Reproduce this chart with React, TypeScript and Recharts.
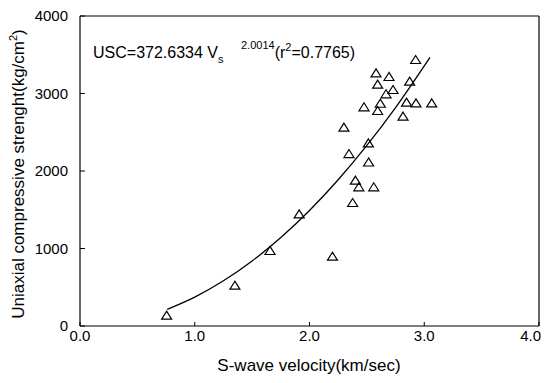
import React from "react";
import { ComposedChart, XAxis, YAxis, Scatter, Line, ReferenceLine } from "recharts";

const velocity = [0.755, 1.35, 1.656, 1.91, 2.2, 2.376, 2.4, 2.43, 2.56, 2.515, 2.513, 2.344, 2.3, 2.475, 2.594, 2.617, 2.667, 2.728, 2.594, 2.58, 2.693, 2.873, 2.925, 2.815, 2.846, 2.928, 3.065];
const strength = [133, 520, 968, 1441, 894, 1587, 1875, 1790, 1790, 2110, 2357, 2219, 2559, 2822, 2774, 2868, 2990, 3045, 3114, 3260, 3213, 3153, 3432, 2701, 2882, 2873, 2873];

const fitVelocity = [0.76, 1.0, 1.25, 1.5, 1.75, 2.0, 2.25, 2.5, 2.75, 3.05];
const fitStrength = [215, 373, 583, 839, 1142, 1491, 1887, 2330, 2819, 3467];

const xTicks = [0, 1, 2, 3, 4];
const yTicks = [0, 1000, 2000, 3000, 4000];

const points = velocity.map((v, i) => ({ x: v, y: strength[i] }));
const fit = fitVelocity.map((v, i) => ({ x: v, y: fitStrength[i] }));

const FONT = "'Liberation Sans', Arial, sans-serif";

const Triangle = (props: any) => {
  const { cx, cy } = props;
  if (cx == null || cy == null) return null;
  const pts = `${cx},${cy - 4.5} ${cx - 5},${cy + 3.5} ${cx + 5},${cy + 3.5}`;
  return <polygon points={pts} fill="none" stroke="#000" strokeWidth={1.2} />;
};

const XTick = (props: any) => {
  const { x, y, payload } = props;
  const isLast = payload.value === xTicks[xTicks.length - 1];
  return (
    <g>
      <line x1={x} x2={x} y1={y} y2={y - 4} stroke="#000" strokeWidth={1} />
      <text
        x={isLast ? x + 2 : x}
        y={y + 4}
        dy="0.71em"
        textAnchor={isLast ? "end" : "middle"}
        fontFamily={FONT}
        fontSize={15}
        fill="#000"
      >
        {Number(payload.value).toFixed(1)}
      </text>
    </g>
  );
};

const YTick = (props: any) => {
  const { x, y, payload } = props;
  return (
    <g>
      <line x1={x} x2={x + 5} y1={y} y2={y} stroke="#000" strokeWidth={1} />
      <text x={x - 12} y={y} dy="0.35em" textAnchor="end" fontFamily={FONT} fontSize={15} fill="#000">
        {payload.value}
      </text>
    </g>
  );
};

export default function App() {
  return (
    <div style={{ width: 541, height: 367 }}>
      <style>{`.recharts-surface { overflow: visible !important; } body { overflow: hidden; }`}</style>
      <ComposedChart
        width={541}
        height={367}
        margin={{ top: 8, right: 10, left: 0, bottom: 0 }}
      >
        <XAxis
          type="number"
          dataKey="x"
          domain={[0, 4]}
          ticks={xTicks}
          allowDataOverflow
          tickSize={0}
          tickMargin={0}
          tick={<XTick />}
          axisLine={{ stroke: "#000", strokeWidth: 1.2 }}
          height={49}
          interval={0}
        />
        <YAxis
          type="number"
          dataKey="y"
          domain={[0, 4000]}
          ticks={yTicks}
          allowDataOverflow
          tickSize={0}
          tickMargin={0}
          tick={<YTick />}
          axisLine={{ stroke: "#000", strokeWidth: 1.2 }}
          width={72}
          interval={0}
        />
        <ReferenceLine y={4000} stroke="#000" strokeWidth={1.2} />
        <ReferenceLine x={4} stroke="#000" strokeWidth={1.2} />
        <Line
          data={fit}
          dataKey="y"
          type="monotone"
          stroke="#000"
          strokeWidth={1.3}
          dot={false}
          activeDot={false}
          isAnimationActive={false}
        />
        <Scatter data={points} dataKey="y" shape={<Triangle />} isAnimationActive={false} />
        <text x={301} y={363} textAnchor="middle" fontFamily={FONT} fontSize={17} fill="#000">
          S-wave velocity(km/sec)
        </text>
        <text
          x={16}
          y={166}
          transform="rotate(-90, 16, 166)"
          textAnchor="middle"
          fontFamily={FONT}
          fontSize={17}
          fill="#000"
        >
          Uniaxial compressive strenght(kg/cm
          <tspan fontSize={11} dy={-7}>2</tspan>
          <tspan dy={7}>)</tspan>
        </text>
        <text x={85} y={50} fontFamily={FONT} fontSize={16} fill="#000">
          USC=372.6334 V
          <tspan fontSize={11} dy={5}>s</tspan>
          <tspan fontSize={11} x={233} dy={-14}>2.0014</tspan>
          <tspan fontSize={16} dy={9}>(r</tspan>
          <tspan fontSize={11} dy={-7}>2</tspan>
          <tspan fontSize={16} dy={7}>=0.7765)</tspan>
        </text>
      </ComposedChart>
    </div>
  );
}
